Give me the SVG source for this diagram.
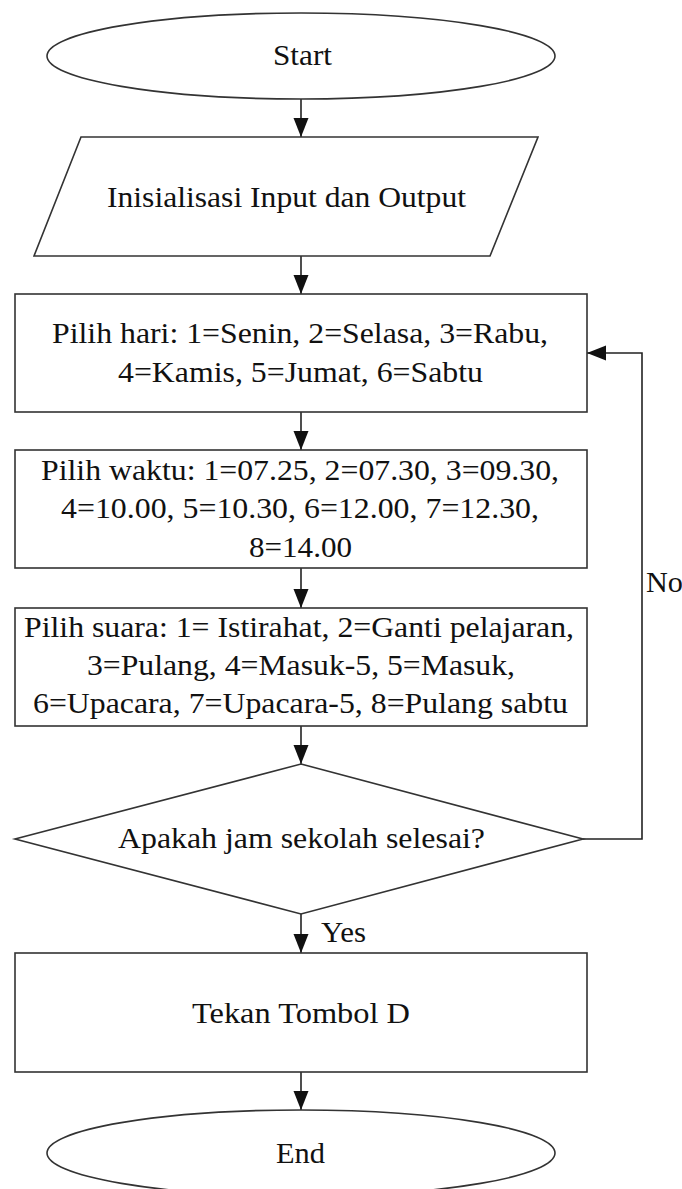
<svg xmlns="http://www.w3.org/2000/svg" width="682" height="1189" viewBox="0 0 682 1189">
<style>
.shape{fill:#fff;stroke:#333;stroke-width:1.6}
.conn{fill:none;stroke:#222;stroke-width:1.6}
text{font-family:"Liberation Serif","Times New Roman",serif;font-size:30px;fill:#111}
</style>
<defs>
<marker id="arr" markerUnits="userSpaceOnUse" markerWidth="20" markerHeight="16" refX="19" refY="7.5" orient="auto">
<path d="M0,0 L19,7.5 L0,15 z" fill="#111"/>
</marker>
</defs>
<rect width="682" height="1189" fill="#fff"/>
<g id="connectors">
<path class="conn" d="M301,99 V137" marker-end="url(#arr)"/>
<path class="conn" d="M301,256 V294" marker-end="url(#arr)"/>
<path class="conn" d="M301,412 V450" marker-end="url(#arr)"/>
<path class="conn" d="M301,568 V608" marker-end="url(#arr)"/>
<path class="conn" d="M301,726 V764" marker-end="url(#arr)"/>
<path class="conn" d="M301,914 V953" marker-end="url(#arr)"/>
<path class="conn" d="M301,1072 V1110" marker-end="url(#arr)"/>
<path class="conn" d="M583,839 H642 V353 H587" marker-end="url(#arr)"/>
<text x="321" y="942" textLength="45" lengthAdjust="spacingAndGlyphs">Yes</text>
<text x="646" y="592" textLength="37" lengthAdjust="spacingAndGlyphs">No</text>
</g>
<g id="start">
<ellipse class="shape" cx="301" cy="56" rx="254" ry="43"/>
<text x="273" y="65" textLength="59" lengthAdjust="spacingAndGlyphs">Start</text>
</g>
<g id="init">
<polygon class="shape" points="81,137 538,137 490,256 34,256"/>
<text x="107" y="207" textLength="359" lengthAdjust="spacingAndGlyphs">Inisialisasi Input dan Output</text>
</g>
<g id="hari">
<rect class="shape" x="15" y="294" width="572" height="118"/>
<text x="52" y="343" textLength="496" lengthAdjust="spacingAndGlyphs">Pilih hari: 1=Senin, 2=Selasa, 3=Rabu,</text>
<text x="118" y="382" textLength="365" lengthAdjust="spacingAndGlyphs">4=Kamis, 5=Jumat, 6=Sabtu</text>
</g>
<g id="waktu">
<rect class="shape" x="15" y="450" width="572" height="118"/>
<text x="41" y="480" textLength="518" lengthAdjust="spacingAndGlyphs">Pilih waktu: 1=07.25, 2=07.30, 3=09.30,</text>
<text x="61" y="518" textLength="478" lengthAdjust="spacingAndGlyphs">4=10.00, 5=10.30, 6=12.00, 7=12.30,</text>
<text x="249" y="557" textLength="103" lengthAdjust="spacingAndGlyphs">8=14.00</text>
</g>
<g id="suara">
<rect class="shape" x="15" y="608" width="572" height="118"/>
<text x="24" y="637" textLength="550" lengthAdjust="spacingAndGlyphs">Pilih suara: 1= Istirahat, 2=Ganti pelajaran,</text>
<text x="87" y="675" textLength="428" lengthAdjust="spacingAndGlyphs">3=Pulang, 4=Masuk-5, 5=Masuk,</text>
<text x="33" y="713" textLength="535" lengthAdjust="spacingAndGlyphs">6=Upacara, 7=Upacara-5, 8=Pulang sabtu</text>
</g>
<g id="decision">
<polygon class="shape" points="301,764 583,839 301,914 15,839"/>
<text x="118" y="848" textLength="367" lengthAdjust="spacingAndGlyphs">Apakah jam sekolah selesai?</text>
</g>
<g id="tekan">
<rect class="shape" x="15" y="953" width="572" height="119"/>
<text x="192" y="1023" textLength="218" lengthAdjust="spacingAndGlyphs">Tekan Tombol D</text>
</g>
<g id="end">
<ellipse class="shape" cx="301" cy="1153" rx="254" ry="43"/>
<text x="276" y="1163" textLength="49" lengthAdjust="spacingAndGlyphs">End</text>
</g>
</svg>
